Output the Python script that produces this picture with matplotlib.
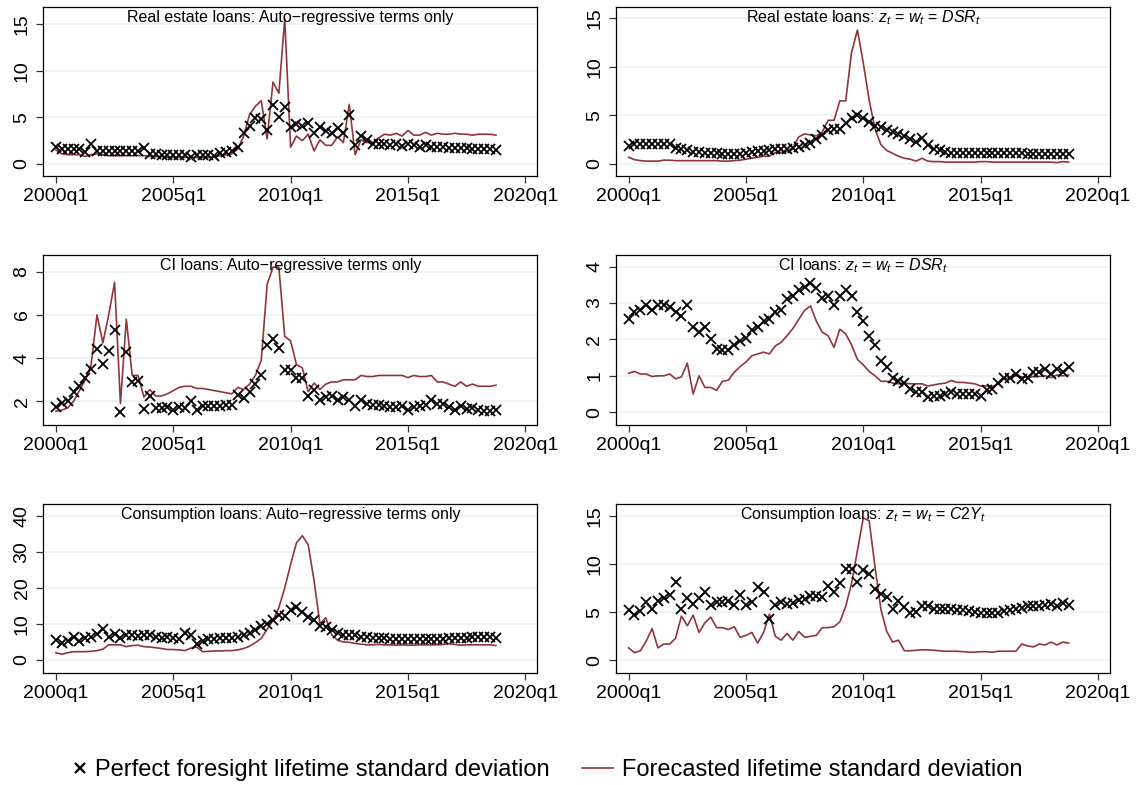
import matplotlib
matplotlib.use("Agg")
import matplotlib.pyplot as plt
from matplotlib.lines import Line2D
import numpy as np

plt.rcParams['font.family'] = ['Liberation Sans', 'DejaVu Sans']
plt.rcParams['mathtext.fontset'] = 'custom'
plt.rcParams['mathtext.it'] = 'Liberation Sans:italic'
plt.rcParams['mathtext.rm'] = 'Liberation Sans'
plt.rcParams['axes.unicode_minus'] = True

# quarters 2000q1 .. 2018q4 (index 0..75)
n_q = 76
xtick_pos = [0, 20, 40, 60, 80]
xtick_labels = ["2000q1", "2005q1", "2010q1", "2015q1", "2020q1"]

# ---- Real estate loans: AR only ----
re_ar_pf = [1.8, 1.6, 1.6, 1.6, 1.6, 1.3, 2.1, 1.4, 1.4, 1.4,
            1.4, 1.4, 1.4, 1.4, 1.4, 1.7, 1.1, 1.1, 1.0, 1.0,
            1.0, 1.0, 1.0, 0.8, 1.0, 1.0, 1.0, 0.9, 1.2, 1.3,
            1.4, 1.8, 3.3, 4.1, 4.9, 4.8, 3.6, 6.3, 5.1, 6.1,
            4.0, 4.3, 4.1, 4.4, 3.3, 4.0, 3.5, 3.3, 3.9, 3.3,
            5.3, 2.0, 3.0, 2.6, 2.2, 2.2, 2.2, 2.0, 2.2, 1.9,
            2.2, 2.0, 1.8, 2.0, 1.8, 1.8, 1.8, 1.7, 1.7, 1.7,
            1.7, 1.6, 1.6, 1.6, 1.6, 1.5]
re_ar_fc = [1.5, 1.1, 1.0, 1.0, 1.0, 0.8, 1.0, 1.1, 1.0, 0.9,
            0.9, 0.9, 0.9, 0.9, 0.9, 0.9, 0.8, 0.8, 0.8, 0.7,
            0.7, 0.7, 0.7, 0.7, 0.7, 0.7, 0.7, 0.8, 0.9, 1.0,
            1.1, 1.6, 3.0, 5.3, 6.2, 6.8, 2.7, 8.8, 7.6, 15.6,
            1.8, 3.0, 2.5, 3.2, 1.4, 2.6, 2.0, 2.0, 2.9, 2.3,
            6.4, 1.0, 2.6, 2.3, 2.3, 2.8, 3.2, 3.1, 3.3, 3.0,
            3.6, 3.1, 3.1, 3.4, 3.1, 3.3, 3.2, 3.2, 3.3, 3.2,
            3.2, 3.1, 3.2, 3.2, 3.2, 3.1]

# ---- Real estate loans: DSR ----
re_dsr_pf = [1.9, 2.1, 2.1, 2.1, 2.1, 2.1, 2.1, 2.1, 1.7, 1.5,
             1.4, 1.2, 1.2, 1.1, 1.1, 1.1, 1.0, 1.0, 1.0, 1.0,
             1.1, 1.2, 1.3, 1.3, 1.4, 1.5, 1.5, 1.6, 1.7, 1.8,
             2.0, 2.2, 2.6, 3.0, 3.5, 3.6, 3.6, 4.2, 4.7, 5.0,
             4.7, 4.3, 3.9, 3.8, 3.5, 3.3, 3.1, 2.9, 2.6, 2.3,
             2.7, 2.0, 1.6, 1.4, 1.2, 1.1, 1.1, 1.1, 1.1, 1.1,
             1.1, 1.1, 1.1, 1.1, 1.1, 1.1, 1.1, 1.1, 1.0, 1.0,
             1.0, 1.0, 1.0, 1.0, 1.0, 1.0]
re_dsr_fc = [0.7, 0.45, 0.35, 0.3, 0.3, 0.3, 0.4, 0.4, 0.35, 0.35,
             0.35, 0.35, 0.35, 0.35, 0.35, 0.35, 0.3, 0.3, 0.35, 0.4,
             0.5, 0.6, 0.7, 0.8, 0.8, 1.2, 1.2, 1.3, 1.7, 2.8,
             3.1, 3.0, 2.9, 3.3, 4.5, 4.5, 6.5, 6.5, 11.5, 13.8,
             10.4, 6.6, 3.6, 2.0, 1.4, 1.1, 0.8, 0.6, 0.5, 0.3,
             0.6, 0.3, 0.25, 0.25, 0.2, 0.2, 0.2, 0.2, 0.2, 0.2,
             0.25, 0.25, 0.2, 0.2, 0.2, 0.2, 0.2, 0.2, 0.2, 0.2,
             0.2, 0.2, 0.2, 0.15, 0.25, 0.2]

# ---- CI loans: AR only ----
ci_ar_pf = [1.75, 1.95, 2.0, 2.45, 2.7, 3.1, 3.5, 4.4, 3.75, 4.35,
            5.3, 1.5, 4.3, 2.9, 2.95, 1.65, 2.25, 1.7, 1.7, 1.75,
            1.6, 1.75, 1.7, 2.0, 1.6, 1.8, 1.8, 1.8, 1.8, 1.85,
            1.85, 2.3, 2.15, 2.45, 2.8, 3.2, 4.6, 4.9, 4.45, 3.45,
            3.45, 3.1, 3.1, 2.25, 2.55, 2.05, 2.2, 2.25, 2.05, 2.2,
            2.05, 1.8, 2.05, 1.9, 1.85, 1.85, 1.8, 1.75, 1.75, 1.8,
            1.6, 1.75, 1.8, 1.85, 2.05, 1.9, 1.9, 1.75, 1.6, 1.8,
            1.65, 1.7, 1.6, 1.55, 1.55, 1.6]
ci_ar_fc = [1.55, 1.6, 1.7, 2.0, 2.5, 3.0, 3.7, 6.0, 4.7, 6.0,
            7.5, 1.9, 5.8, 3.2, 3.2, 2.2, 2.55, 2.25, 2.25, 2.35,
            2.5, 2.65, 2.7, 2.7, 2.6, 2.6, 2.55, 2.5, 2.45, 2.4,
            2.35, 2.65, 2.55, 2.8, 3.2, 3.9, 7.4, 8.2, 8.2, 5.0,
            4.8, 3.7, 3.55, 2.45, 2.85, 2.55, 2.8, 2.9, 2.9, 3.0,
            3.0, 3.0, 3.2, 3.15, 3.15, 3.2, 3.2, 3.2, 3.2, 3.2,
            3.1, 3.2, 3.15, 3.15, 3.2, 2.9, 2.9, 2.8, 2.7, 2.9,
            2.7, 2.8, 2.7, 2.7, 2.7, 2.75]

# ---- CI loans: DSR ----
ci_dsr_pf = [2.55, 2.75, 2.8, 2.95, 2.8, 2.95, 2.95, 2.9, 2.75, 2.65,
             2.95, 2.35, 2.2, 2.35, 2.0, 1.75, 1.7, 1.7, 1.85, 1.95,
             2.05, 2.25, 2.35, 2.5, 2.55, 2.75, 2.8, 3.1, 3.2, 3.35,
             3.45, 3.55, 3.4, 3.15, 3.2, 2.95, 3.2, 3.35, 3.2, 2.75,
             2.5, 2.1, 1.85, 1.4, 1.25, 0.95, 0.85, 0.8, 0.65, 0.55,
             0.55, 0.42, 0.45, 0.45, 0.5, 0.55, 0.5, 0.5, 0.5, 0.5,
             0.45, 0.6, 0.65, 0.8, 0.95, 0.95, 1.05, 0.9, 0.95, 1.1,
             1.1, 1.2, 1.05, 1.2, 1.1, 1.25]
ci_dsr_fc = [1.07, 1.12, 1.05, 1.05, 0.98, 1.0, 1.0, 1.05, 0.92, 0.97,
             1.35, 0.5, 1.0, 0.68, 0.68, 0.6, 0.85, 0.88, 1.1, 1.25,
             1.38, 1.55, 1.6, 1.65, 1.6, 1.82, 1.92, 2.1, 2.3, 2.55,
             2.8, 2.92, 2.5, 2.2, 2.1, 1.78, 2.28, 2.15, 1.85, 1.45,
             1.3, 1.12, 1.0, 0.85, 0.85, 0.8, 0.78, 0.8, 0.78, 0.78,
             0.78, 0.72, 0.75, 0.78, 0.8, 0.87, 0.82, 0.82, 0.8, 0.78,
             0.72, 0.72, 0.7, 0.78, 0.92, 0.95, 1.0, 0.97, 0.95, 0.98,
             0.98, 1.0, 0.95, 1.02, 1.0, 1.02]

# ---- Consumption loans: AR only ----
cons_ar_pf = [5.5, 4.8, 5.3, 6.5, 5.4, 6.2, 6.5, 7.2, 8.6, 6.5,
              7.2, 6.2, 7.0, 7.0, 6.6, 6.8, 6.8, 6.5, 6.2, 6.5,
              6.2, 5.8, 7.6, 7.0, 4.3, 5.4, 5.8, 5.8, 6.0, 6.0,
              6.2, 6.5, 7.0, 7.5, 8.3, 9.3, 10.0, 11.1, 12.4, 12.3,
              14.0, 14.8, 13.3, 12.0, 11.0, 9.5, 9.2, 8.3, 7.4, 7.0,
              7.0, 6.8, 6.5, 6.4, 6.2, 6.1, 6.0, 5.9, 5.8, 5.8,
              5.7, 5.7, 5.7, 5.7, 5.7, 5.8, 5.8, 6.1, 6.2, 6.2,
              6.2, 6.3, 6.3, 6.3, 6.3, 6.2]
cons_ar_fc = [2.0, 1.6, 2.0, 2.3, 2.3, 2.3, 2.4, 2.6, 3.0, 4.2,
              4.2, 4.2, 3.7, 4.0, 4.1, 3.7, 3.6, 3.4, 3.2, 2.9,
              2.9, 2.8, 2.6, 3.3, 3.6, 2.3, 2.4, 2.5, 2.5, 2.6,
              2.6, 2.8, 3.2, 3.8, 4.8, 6.0, 8.5, 11.0, 14.5, 20.0,
              26.5, 32.5, 34.5, 32.0, 22.0, 10.0, 11.7, 7.0, 5.5, 5.0,
              4.9, 4.6, 4.4, 4.2, 4.2, 4.3, 4.2, 4.2, 4.1, 4.2,
              4.1, 4.1, 4.2, 4.2, 4.2, 4.2, 4.3, 4.5, 4.3, 4.1,
              4.2, 4.2, 4.2, 4.2, 4.2, 4.0]

# ---- Consumption loans: C2Y ----
cons_c2y_pf = [5.2, 4.7, 5.1, 6.1, 5.3, 6.2, 6.5, 6.8, 8.1, 5.3,
               6.5, 5.9, 6.5, 7.1, 5.8, 6.1, 6.1, 6.2, 5.8, 6.8,
               5.8, 6.1, 7.6, 7.1, 4.3, 5.8, 6.1, 5.9, 6.0, 6.3,
               6.4, 6.7, 6.7, 6.6, 7.7, 7.1, 8.0, 9.5, 9.5, 8.1,
               9.4, 9.0, 7.4, 6.9, 6.6, 5.3, 6.2, 5.5, 4.9, 5.0,
               5.6, 5.6, 5.3, 5.3, 5.3, 5.3, 5.2, 5.2, 5.1, 5.0,
               4.9, 4.9, 4.9, 4.9, 5.1, 5.2, 5.3, 5.4, 5.6, 5.7,
               5.7, 5.8, 5.9, 5.7, 6.0, 5.8]
cons_c2y_fc = [1.3, 0.8, 1.0, 2.0, 3.3, 1.3, 1.7, 1.7, 2.3, 4.6,
               3.6, 4.7, 2.9, 3.9, 4.5, 3.4, 3.4, 3.2, 3.5, 2.4,
               2.6, 2.9, 1.8, 2.9, 4.8, 2.5, 2.1, 2.8, 2.1, 3.0,
               2.4, 2.5, 2.6, 3.4, 3.4, 3.5, 4.0, 5.6, 8.0, 11.4,
               14.8, 14.5, 9.7, 5.3, 3.0, 1.9, 2.1, 1.0, 1.0, 1.05,
               1.1, 1.1, 1.05, 1.0, 0.95, 0.95, 0.95, 0.9, 0.85, 0.85,
               0.9, 0.9, 0.85, 0.95, 0.95, 0.95, 0.95, 1.7, 1.5, 1.4,
               1.7, 1.6, 1.9, 1.6, 1.9, 1.8]

titles = [
    "Real estate loans: Auto\u2212regressive terms only",
    "Real estate loans: $z_t$ = $w_t$ = $DSR_t$",
    "CI loans: Auto\u2212regressive terms only",
    "CI loans: $z_t$ = $w_t$ = $DSR_t$",
    "Consumption loans: Auto\u2212regressive terms only",
    "Consumption loans: $z_t$ = $w_t$ = $C2Y_t$",
]
pf_series = [re_ar_pf, re_dsr_pf, ci_ar_pf, ci_dsr_pf, cons_ar_pf, cons_c2y_pf]
fc_series = [re_ar_fc, re_dsr_fc, ci_ar_fc, ci_dsr_fc, cons_ar_fc, cons_c2y_fc]
yticks = [[0, 5, 10, 15], [0, 5, 10, 15], [2, 4, 6, 8],
          [0, 1, 2, 3, 4], [0, 10, 20, 30, 40], [0, 5, 10, 15]]
ylims = [(-1.29, 16.9), (-1.23, 16.2), (0.93, 8.75),
         (-0.34, 4.31), (-3.7, 43.3), (-1.34, 16.24)]

W, H = 1137, 785
fig = plt.figure(figsize=(W / 100, H / 100), dpi=100)
fig.patch.set_facecolor("white")

col_left = [43.3, 616.0]
row_top = [6.7, 255.3, 504.0]
ax_w, ax_h = 494.0, 169.3

line_color = "#90353b"
grid_color = "#e9f1f2"
x = np.arange(n_q)

for k in range(6):
    r, c = divmod(k, 2)
    left = col_left[c] / W
    bottom = 1 - (row_top[r] + ax_h) / H
    ax = fig.add_axes([left, bottom, ax_w / W, ax_h / H])
    ax.set_facecolor("white")
    for t in yticks[k]:
        ax.axhline(t, color=grid_color, lw=1.2, zorder=0)
    ax.plot(x, fc_series[k], color=line_color, lw=1.2, zorder=2)
    ax.plot(x, pf_series[k], linestyle="none", marker="x", color="black",
            markersize=6.5, markeredgewidth=1.3, zorder=3)
    ax.set_xlim(-2.15, 82.05)
    ax.set_ylim(*ylims[k])
    ax.set_xticks(xtick_pos)
    ax.set_xticklabels(xtick_labels)
    ax.set_yticks(yticks[k])
    ax.set_yticklabels([str(v) for v in yticks[k]], rotation=90, va="center")
    ax.tick_params(axis="both", direction="out", length=5.2, width=0.9,
                   labelsize=14, color="#333333")
    ax.tick_params(axis="x", pad=3.5)
    ax.tick_params(axis="y", pad=4)
    for s in ax.spines.values():
        s.set_linewidth(0.9)
        s.set_color("black")
    ax.text(0.5, 1 - 10.5 / ax_h, titles[k], transform=ax.transAxes,
            ha="center", va="center", fontsize=11.5, zorder=4)

# legend: two separate pieces so the marker sits close to its text
leg_y = 1 - 770 / H
h_pf = Line2D([], [], linestyle="none", marker="x", color="black",
              markersize=6.5, markeredgewidth=1.6)
h_fc = Line2D([], [], color=line_color, lw=1.2)
leg1 = fig.legend([h_pf], ["Perfect foresight lifetime standard deviation"],
                  loc="center left", bbox_to_anchor=(74 / W, leg_y),
                  frameon=False, fontsize=17, handlelength=0.55,
                  handletextpad=0.35, borderpad=0, borderaxespad=0)
leg2 = fig.legend([h_fc], ["Forecasted lifetime standard deviation"],
                  loc="center left", bbox_to_anchor=(582 / W, leg_y),
                  frameon=False, fontsize=17, handlelength=1.3,
                  handletextpad=0.4, borderpad=0, borderaxespad=0)

fig.savefig("out.png", dpi=100, facecolor="white")
